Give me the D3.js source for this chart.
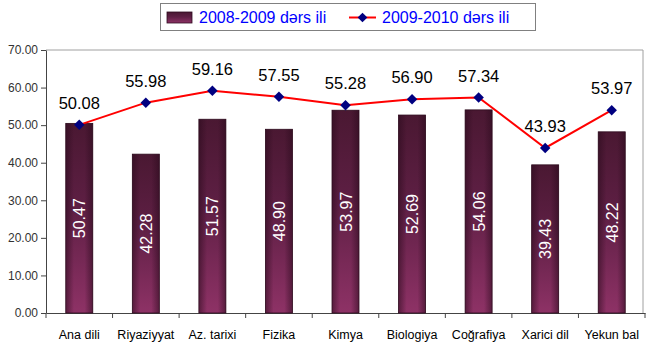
<!DOCTYPE html>
<html>
<head>
<meta charset="utf-8">
<script src="https://cdn.jsdelivr.net/npm/d3@7"></script>
<style>
  html, body { margin: 0; padding: 0; background: #fff; }
  svg { display: block; font-family: Arial, "Liberation Sans", sans-serif; }
</style>
</head>
<body>
<div id="chart"></div>
<script>
const categories = ['Ana dili', 'Riyaziyyat', 'Az. tarixi', 'Fizika', 'Kimya', 'Biologiya', 'Coğrafiya', 'Xarici dil', 'Yekun bal'];
const bars0809 = [50.47, 42.28, 51.57, 48.90, 53.97, 52.69, 54.06, 39.43, 48.22];
const line0910 = [50.08, 55.98, 59.16, 57.55, 55.28, 56.90, 57.34, 43.93, 53.97];
const seriesNames = ['2008-2009 dərs ili', '2009-2010 dərs ili'];
const yTicks = [0, 10, 20, 30, 40, 50, 60, 70];

const W = 650, H = 352;
const margin = { top: 50, right: 5, bottom: 39, left: 46 };
const width = W - margin.left - margin.right;
const height = H - margin.top - margin.bottom;

const svg = d3.select('#chart').append('svg')
    .attr('width', W)
    .attr('height', H);

const defs = svg.append('defs');
const vg = defs.append('linearGradient').attr('id', 'barV')
    .attr('x1', 0).attr('y1', 0).attr('x2', 0).attr('y2', 1);
vg.append('stop').attr('offset', '0%').attr('stop-color', '#4a1832');
vg.append('stop').attr('offset', '45%').attr('stop-color', '#5e1f44');
vg.append('stop').attr('offset', '100%').attr('stop-color', '#8e3266');
const hg = defs.append('linearGradient').attr('id', 'barH')
    .attr('x1', 0).attr('y1', 0).attr('x2', 1).attr('y2', 0);
hg.append('stop').attr('offset', '0%').attr('stop-color', '#2a0a1c').attr('stop-opacity', 0.55);
hg.append('stop').attr('offset', '30%').attr('stop-color', '#2a0a1c').attr('stop-opacity', 0);
hg.append('stop').attr('offset', '70%').attr('stop-color', '#2a0a1c').attr('stop-opacity', 0);
hg.append('stop').attr('offset', '100%').attr('stop-color', '#2a0a1c').attr('stop-opacity', 0.55);

const g = svg.append('g')
    .attr('transform', `translate(${margin.left}, ${margin.top})`);

const x = d3.scaleBand().domain(categories).range([0, width]);
const y = d3.scaleLinear().domain([0, 70]).range([height, 0]);

// plot border (top and right)
g.append('path')
    .attr('d', `M0,0H${width - 2}V${height}`)
    .attr('fill', 'none')
    .attr('stroke', '#a0a0a0')
    .attr('stroke-width', 1);

const yAxis = d3.axisLeft(y).tickValues(yTicks).tickFormat(d3.format('.2f')).tickSize(5).tickSizeOuter(0);
const gy = g.append('g').attr('class', 'y-axis').call(yAxis);
gy.selectAll('text').style('font-size', '12px').attr('fill', '#333');
gy.selectAll('line, path').attr('stroke', '#444');

const xAxis = d3.axisBottom(x).tickSize(0).tickSizeOuter(0);
const gx = g.append('g').attr('class', 'x-axis')
    .attr('transform', `translate(0, ${height})`).call(xAxis);
gx.select('path').attr('stroke', '#444');
gx.selectAll('text').style('font-size', '12.5px').attr('fill', '#000').attr('dy', '1.85em');
// category separator ticks
gx.selectAll('.sep').data(d3.range(categories.length + 1)).join('line')
    .attr('class', 'sep')
    .attr('x1', i => i * x.step()).attr('x2', i => i * x.step())
    .attr('y1', 0).attr('y2', 5)
    .attr('stroke', '#444');

const bw = 27;
const bars = g.append('g').selectAll('g').data(bars0809).join('g')
    .attr('transform', (d, i) => `translate(${x(categories[i]) + x.bandwidth() / 2 - bw / 2}, 0)`);
bars.append('rect')
    .attr('y', d => y(d)).attr('width', bw).attr('height', d => height - y(d))
    .attr('fill', 'url(#barV)')
    .attr('stroke', '#2e0c1e').attr('stroke-width', 0.8);
bars.append('rect')
    .attr('y', d => y(d)).attr('width', bw).attr('height', d => height - y(d))
    .attr('fill', 'url(#barH)');
bars.append('text')
    .attr('transform', d => `translate(${bw / 2 + 6}, ${(y(d) + height) / 2}) rotate(-90)`)
    .attr('text-anchor', 'middle')
    .attr('fill', '#fff')
    .style('font-size', '16px')
    .text(d => d.toFixed(2));

const cx = i => x(categories[i]) + x.bandwidth() / 2;
const line = d3.line().x((d, i) => cx(i)).y(d => y(d));
g.append('path').datum(line0910)
    .attr('d', line)
    .attr('fill', 'none')
    .attr('stroke', '#ff0000')
    .attr('stroke-width', 2);
g.append('g').selectAll('path').data(line0910).join('path')
    .attr('d', d3.symbol(d3.symbolDiamond2, 70))
    .attr('transform', (d, i) => `translate(${cx(i)}, ${y(d)})`)
    .attr('fill', '#000080');
g.append('g').selectAll('text').data(line0910).join('text')
    .attr('x', (d, i) => cx(i))
    .attr('y', d => y(d) - 16)
    .attr('text-anchor', 'middle')
    .attr('fill', '#000')
    .style('font-size', '16.5px')
    .text(d => d.toFixed(2));

// legend
const lg = svg.append('g').attr('transform', 'translate(160, 3)');
lg.append('rect').attr('x', 0.5).attr('y', 0.5).attr('width', 375).attr('height', 27)
    .attr('fill', '#fff').attr('stroke', '#808080');
lg.append('rect').attr('x', 7).attr('y', 9).attr('width', 25).attr('height', 11)
    .attr('fill', 'url(#barV)').attr('stroke', '#2e0c1e').attr('stroke-width', 0.8);
lg.append('text').attr('x', 39).attr('y', 20)
    .attr('fill', '#0000ff').style('font-size', '16px').text(seriesNames[0]);
lg.append('line').attr('x1', 189).attr('x2', 216).attr('y1', 14.5).attr('y2', 14.5)
    .attr('stroke', '#ff0000').attr('stroke-width', 2);
lg.append('path').attr('d', d3.symbol(d3.symbolDiamond2, 60))
    .attr('transform', 'translate(202.5, 14.5)').attr('fill', '#000080');
lg.append('text').attr('x', 222).attr('y', 20)
    .attr('fill', '#0000ff').style('font-size', '16px').text(seriesNames[1]);
</script>
</body>
</html>
